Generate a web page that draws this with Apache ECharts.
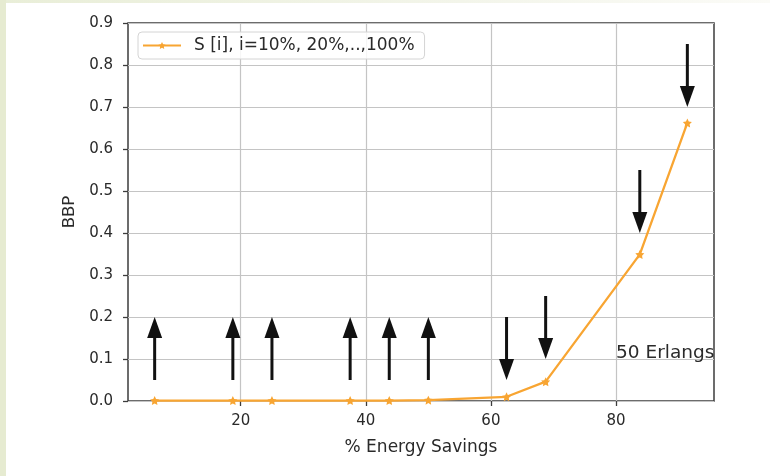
<!DOCTYPE html>
<html>
<head>
<meta charset="utf-8">
<script src="https://cdn.jsdelivr.net/npm/echarts@6/dist/echarts.min.js"></script>
<style>
  html, body { margin: 0; padding: 0; background: #ffffff; }
  #frame {
    position: relative; width: 770px; height: 476px; overflow: hidden;
    background: linear-gradient(to right, #e9eed8 0, #f3f5ea 60%, #fbfbf7 100%) top left / 100% 3px no-repeat, #ffffff;
  }
  #strip { position: absolute; left: 0; top: 0; width: 6px; height: 476px; background: #e6ebd1; }
  #chart { position: absolute; left: 0; top: 0; width: 770px; height: 476px; }
</style>
</head>
<body>
<div id="frame">
  <div id="strip"></div>
  <div id="chart"></div>
</div>
<script>
// Energy savings (%) for each S[i] setting and the resulting blocking probability
const energySavings = [6.25, 18.75, 25, 37.5, 43.75, 50, 62.5, 68.75, 83.8, 91.4];
const bbpValues = [0.001, 0.001, 0.001, 0.001, 0.001, 0.002, 0.010, 0.046, 0.349, 0.662];

// Annotation arrows: x position, start value, end value (head at the end)
const arrowX = [6.25, 18.75, 25, 37.5, 43.75, 50, 62.5, 68.75, 83.8, 91.4];
const arrowFrom = [0.05, 0.05, 0.05, 0.05, 0.05, 0.05, 0.20, 0.25, 0.55, 0.85];
const arrowTo = [0.20, 0.20, 0.20, 0.20, 0.20, 0.20, 0.05, 0.10, 0.40, 0.70];

// Axis ticks
const xTicks = [20, 40, 60, 80];
const yTicks = [0, 0.1, 0.2, 0.3, 0.4, 0.5, 0.6, 0.7, 0.8, 0.9];

const seriesName = 'S [i], i=10%, 20%,..,100%';
const noteText = '50 Erlangs';
const notePos = [80, 0.1];

const STAR = 'path://M0,-10 L2.94,-4.05 9.51,-3.09 4.76,1.55 5.88,8.09 0,5 -5.88,8.09 -4.76,1.55 -9.51,-3.09 -2.94,-4.05 Z';
const ORANGE = '#f8a532';
const TEXT = '#2a2a2a';
const FONT = 'DejaVu Sans';

const chart = echarts.init(document.getElementById('chart'), null, { renderer: 'canvas' });

const arrowData = arrowX.map((x, i) => [x, arrowFrom[i], arrowTo[i]]);

chart.setOption({
  animation: false,
  backgroundColor: 'transparent',
  textStyle: { fontFamily: FONT },
  grid: {
    left: 128, right: 56, top: 23, bottom: 75,
    show: true, borderColor: '#3c3c3c', borderWidth: 1.5, backgroundColor: 'transparent'
  },
  legend: {
    left: 138, top: 32,
    data: [seriesName],
    padding: [5, 10, 5, 4],
    backgroundColor: 'rgba(255,255,255,0.85)',
    borderColor: '#d4d4d4', borderWidth: 1, borderRadius: 4,
    itemWidth: 38, itemHeight: 9,
    textStyle: { fontSize: 17, color: TEXT, fontFamily: FONT, padding: [0, 0, 0, 8] }
  },
  xAxis: {
    type: 'value',
    min: 1.99, max: 95.66,
    interval: 20,
    name: '% Energy Savings',
    nameLocation: 'middle', nameGap: 38,
    nameTextStyle: { fontSize: 17, color: TEXT, fontFamily: FONT },
    axisLine: { show: false },
    axisTick: { show: true, length: 5, customValues: xTicks, lineStyle: { color: '#3c3c3c', width: 1.3 } },
    axisLabel: {
      customValues: xTicks, margin: 13, fontSize: 15, color: TEXT, fontFamily: FONT,
      formatter: v => (xTicks.indexOf(v) >= 0 ? String(v) : '')
    },
    splitLine: { show: true, lineStyle: { color: '#c4c4c4', width: 1.2 } }
  },
  yAxis: {
    type: 'value',
    min: 0, max: 0.9, interval: 0.1,
    name: 'BBP',
    nameLocation: 'middle', nameGap: 49,
    nameTextStyle: { fontSize: 16.5, color: TEXT, fontFamily: FONT },
    axisLine: { show: false },
    axisTick: { show: true, length: 5, lineStyle: { color: '#3c3c3c', width: 1.3 } },
    axisLabel: {
      margin: 15, fontSize: 15, color: TEXT, fontFamily: FONT,
      formatter: v => v.toFixed(1)
    },
    splitLine: { show: true, lineStyle: { color: '#c4c4c4', width: 1.2 } }
  },
  series: [
    {
      name: seriesName,
      type: 'line',
      data: energySavings.map((x, i) => [x, bbpValues[i]]),
      symbol: STAR,
      symbolSize: 9,
      showSymbol: true,
      lineStyle: { color: ORANGE, width: 2.3 },
      itemStyle: { color: ORANGE },
      z: 3
    },
    {
      name: 'arrows',
      type: 'custom',
      data: arrowData,
      encode: { x: 0, y: [1, 2] },
      z: 4,
      renderItem: function (params, api) {
        const p0 = api.coord([api.value(0), api.value(1)]);
        const p1 = api.coord([api.value(0), api.value(2)]);
        const dir = p1[1] > p0[1] ? 1 : -1;
        const headLen = 21, halfW = 7.5;
        const baseY = p1[1] - dir * headLen;
        return {
          type: 'group',
          children: [
            {
              type: 'line',
              shape: { x1: p0[0], y1: p0[1], x2: p1[0], y2: baseY },
              style: { stroke: '#111111', lineWidth: 3 }
            },
            {
              type: 'polygon',
              shape: { points: [[p1[0], p1[1]], [p1[0] - halfW, baseY], [p1[0] + halfW, baseY]] },
              style: { fill: '#111111' }
            }
          ]
        };
      }
    },
    {
      name: 'note',
      type: 'custom',
      data: [[notePos[0], notePos[1]]],
      z: 5,
      renderItem: function (params, api) {
        const p = api.coord([api.value(0), api.value(1)]);
        return {
          type: 'text',
          style: {
            text: noteText, x: p[0], y: p[1] + 4,
            align: 'left', verticalAlign: 'bottom',
            fontSize: 18.5, fontFamily: FONT, fill: TEXT
          }
        };
      }
    }
  ]
});
</script>
</body>
</html>
